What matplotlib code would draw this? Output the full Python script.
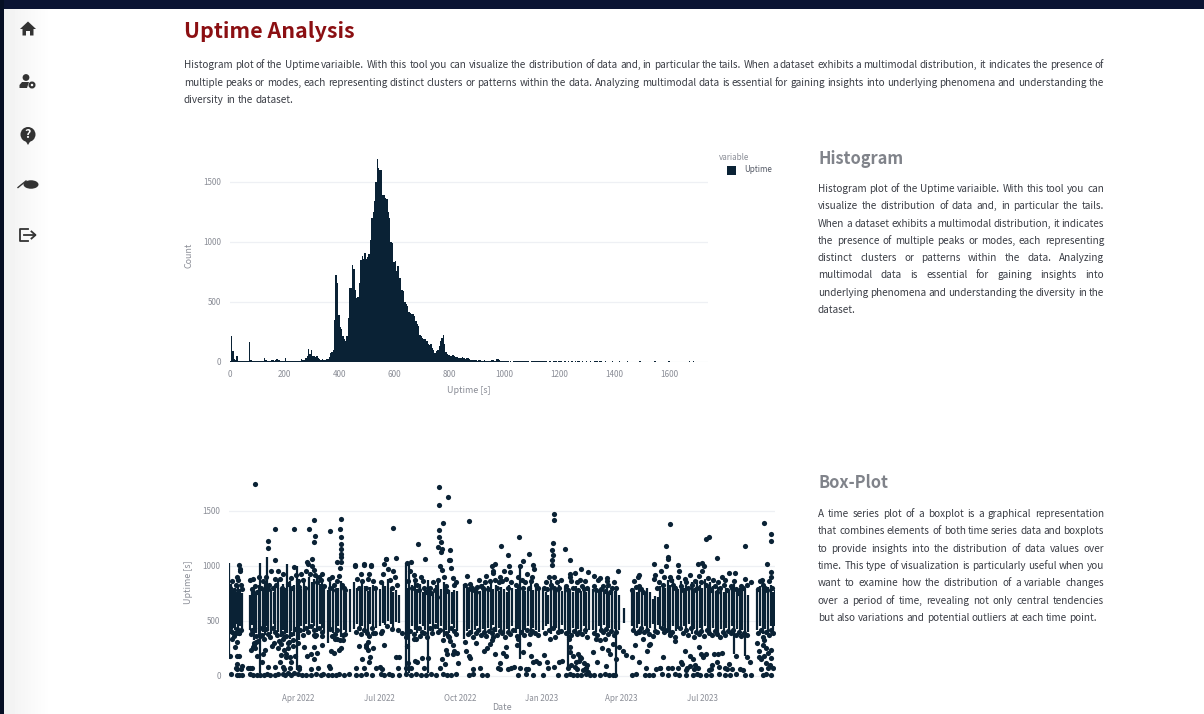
import numpy as np
import pandas as pd
import matplotlib
matplotlib.use('Agg')
import matplotlib.pyplot as plt
import matplotlib.patches as mpatches

W, H = 1204, 714
NAVY = '#0a2235'
GREY = '#8a8d96'
plt.rcParams['font.family'] = ['Noto Sans CJK JP', 'DejaVu Sans']

# histogram, 5 s bins starting at 0
hist_counts = [
    5, 210, 85, 20, 10, 45, 5, 3, 2, 2,
    2, 1, 6, 8, 160, 12, 8, 3, 1, 1,
    1, 4, 2, 3, 2, 28, 12, 5, 6, 8,
    10, 12, 8, 12, 25, 10, 12, 8, 5, 3,
    28, 5, 6, 8, 6, 5, 6, 6, 5, 6,
    8, 6, 20, 15, 14, 30, 50, 105, 60, 95,
    50, 45, 40, 45, 30, 20, 15, 25, 15, 15,
    18, 25, 40, 70, 80, 95, 345, 725, 660, 390,
    290, 270, 215, 190, 170, 210, 365, 615, 615, 805,
    770, 600, 530, 540, 655, 845, 885, 860, 910, 860,
    870, 900, 1015, 1200, 1250, 1340, 1500, 1690, 1620, 1600,
    1600, 1390, 1390, 1370, 1360, 1250, 1200, 1000, 990, 830,
    840, 760, 800, 700, 695, 600, 590, 500, 480, 460,
    410, 405, 400, 400, 380, 340, 310, 300, 220, 210,
    195, 190, 190, 170, 145, 140, 145, 115, 95, 75,
    85, 100, 130, 170, 200, 225, 150, 80, 65, 55,
    48, 50, 52, 45, 35, 35, 30, 30, 32, 38,
    30, 25, 30, 28, 20, 15, 14, 12, 10, 12,
    8, 10, 9, 8, 7, 9, 8, 6, 7, 5,
    9, 10, 6, 7, 18, 20, 9, 8, 8, 7,
    2, 4, 3, 0, 3, 0, 2, 4, 3, 3,
    2, 3, 3, 3, 2, 1, 3, 3, 0, 2,
    3, 3, 2, 1, 3, 3, 4, 4, 3, 2,
    3, 0, 3, 3, 0, 3, 2, 3, 0, 2,
    3, 3, 0, 2, 2, 0, 3, 0, 2, 2,
    0, 2, 0, 2, 3, 0, 2, 0, 0, 2,
    0, 0, 2, 0, 0, 3, 3, 2, 0, 2,
    3, 0, 0, 2, 0, 0, 0, 0, 2, 0,
    0, 0, 0, 2, 0, 0, 0, 0, 0, 2,
    0, 0, 0, 0, 0, 0, 0, 0, 2, 0,
    0, 0, 0, 0, 0, 0, 0, 0, 0, 2,
    0, 0, 0, 0, 0, 0, 0, 0, 0, 2,
    0, 0, 0, 0, 0, 0, 0, 0, 0, 0,
    0, 0, 0, 0, 2, 0, 0, 2, 0, 0,
    0, 0, 0, 0, 0,
]
hist_edges = [i * 5 for i in range(len(hist_counts) + 1)]
hist_ticks = [0, 200, 400, 600, 800, 1000, 1200, 1400, 1600]
count_ticks = [0, 500, 1000, 1500]

start_date = '2022-01-13'
month_ticks = ['2022-04-01', '2022-07-01', '2022-10-01', '2023-01-01', '2023-04-01', '2023-07-01']
month_labels = ['Apr 2022', 'Jul 2022', 'Oct 2022', 'Jan 2023', 'Apr 2023', 'Jul 2023']
uptime_ticks = [0, 500, 1000, 1500]

# whiskers: day after start_date, low end, high end
box_days = [0, 2, 4, 6, 8, 10, 12, 14,
            23, 25, 28, 30, 33, 35, 38, 40, 42, 44, 47, 50, 52, 55, 58, 60, 63, 65, 68, 70, 73, 76, 78, 81, 84, 87, 90, 93, 96, 99, 102, 105, 107,
            111, 114, 117, 120, 123, 126, 129, 132, 136,
            141, 144, 147, 150, 153, 156, 159, 162, 165,
            170, 173, 176, 179, 182, 185, 188, 192,
            199, 201, 203, 206, 209, 212, 215, 218, 221, 224, 227, 230, 233, 236, 239, 242, 245, 248, 251, 254, 257,
            265, 268, 271, 274, 277, 280, 283, 286, 289, 292, 295, 298, 301, 304, 307, 310, 313, 316, 319,
            323, 326, 328, 331, 334, 337, 340, 343, 346, 349,
            354, 357, 360, 363, 366, 369, 372, 375,
            379, 382, 385, 388, 391, 394, 397, 400, 403, 406,
            411, 414, 417, 420, 423, 426, 429, 432, 435, 437, 440, 445,
            454, 457, 460, 463, 466, 469, 472, 475, 480, 484,
            478, 486, 489, 492, 495, 498, 501, 504, 507,
            505, 510, 513, 516, 519, 522, 525, 528, 531, 534, 537, 540, 543, 546, 549, 552, 555, 558, 561, 564, 567, 570, 573, 576, 579, 582, 585,
            596, 599, 602, 605, 608, 611, 614, 616]
box_lows = [150, 380, 440, 420, 470, 430, 450, 410,
            420, 460, 330, 390, 350, 30, 400, 370, 450, 410, 380, 470, 430, 400, 350, 420, 380, 390, 340, 410, 360, 50, 330, 450, 400, 470, 430, 480, 450, 400, 470, 440, 400,
            300, 430, 390, 400, 450, 350, 420, 400, 400,
            430, 470, 410, 450, 420, 390, 470, 420, 440,
            450, 480, 460, 500, 470, 430, 490, 480,
            30, 380, 30, 450, 420, 390, 470, 450, 420, 30, 470, 410, 480, 430, 450, 350, 420, 390, 470, 440, 410,
            340, 410, 430, 380, 420, 450, 400, 430, 390, 440, 420, 460, 400, 440, 420, 380, 430, 410, 450,
            390, 430, 150, 400, 420, 450, 410, 440, 420, 400,
            420, 450, 470, 380, 430, 440, 400, 460,
            420, 80, 380, 440, 400, 430, 410, 450, 380, 420,
            420, 400, 450, 430, 460, 410, 440, 400, 430, 20, 420, 480,
            450, 420, 440, 470, 430, 450, 410, 440, 430, 460,
            470, 430, 450, 400, 430, 380, 450, 410, 430,
            500, 420, 450, 400, 470, 380, 430, 410, 440, 390, 450, 420, 400, 440, 410, 380, 430, 400, 440, 420, 450, 200, 430, 390, 420, 180, 400,
            420, 450, 380, 430, 400, 450, 420, 450]
box_highs = [1030, 840, 780, 800, 760, 820, 790, 750,
             740, 770, 810, 760, 830, 1030, 790, 850, 1080, 820, 780, 760, 830, 870, 800, 840, 780, 1020, 860, 790, 830, 1000, 880, 790, 860, 810, 900, 850, 880, 920, 840, 860, 820,
             780, 850, 820, 760, 800, 860, 790, 750, 790,
             850, 800, 780, 860, 820, 770, 810, 830, 790,
             790, 850, 820, 880, 800, 760, 780, 740,
             1030, 800, 1030, 830, 870, 790, 840, 760, 810, 870, 800, 760, 830, 870, 790, 850, 800, 780, 760, 780, 770,
             840, 810, 780, 830, 790, 810, 770, 840, 800, 820, 860, 790, 830, 770, 810, 790, 760, 830, 800,
             790, 830, 1000, 800, 770, 790, 850, 780, 810, 790,
             790, 760, 740, 870, 800, 790, 830, 770,
             810, 800, 780, 760, 820, 790, 770, 800, 760, 790,
             790, 760, 780, 800, 770, 810, 750, 790, 770, 800, 740, 620,
             800, 770, 760, 800, 790, 750, 800, 760, 730, 720,
             700, 820, 840, 800, 870, 830, 880, 820, 790,
             650, 860, 800, 830, 810, 850, 790, 870, 830, 800, 880, 790, 850, 820, 770, 810, 790, 760, 800, 770, 820, 840, 780, 800, 830, 790, 740,
             790, 820, 850, 790, 810, 830, 760, 780]

# outliers near zero
zero_days = [2, 8, 11, 14, 23, 27, 31, 34, 39, 42, 46, 51, 55, 60, 63, 66, 70, 73, 77, 82, 86, 92, 98, 103, 106, 111, 116, 120, 124, 129, 135,
             143, 148, 154, 161, 171, 175, 180, 184, 191, 199, 205, 211, 216, 222, 228, 233, 241, 246, 250, 256,
             271, 275, 285, 291, 326, 335, 343, 354, 371, 380, 384, 388, 392, 397, 403, 407, 412, 418, 424, 429, 433, 435, 454, 459, 469, 474, 478,
             488, 495, 503, 508, 516, 523, 528, 531, 538, 544, 553, 559, 565, 572, 582, 589, 602, 606, 612]
zero_vals = [15, 10, 12, 8, 18, 10, 6, 12, 8, 15, 9, 10, 14, 20, 8, 25, 12, 30, 15, 10, 8, 12, 20, 10, 15, 10, 12, 8, 14, 10, 15,
             12, 8, 15, 10, 18, 10, 14, 12, 8, 15, 10, 20, 12, 8, 14, 10, 18, 10, 12, 15,
             10, 15, 10, 12, 8, 20, 10, 10, 12, 8, 15, 10, 12, 8, 14, 10, 12, 8, 15, 10, 12, 10, 12, 15, 10, 8, 12,
             14, 10, 15, 8, 12, 10, 15, 8, 12, 10, 14, 12, 8, 15, 10, 12, 8, 15, 10]

# outliers below the whiskers
low_days = [1, 3, 6, 8, 9, 11, 13, 14, 6, 9, 11, 7, 8,
            21, 24, 26, 29, 23, 27, 30, 34, 38, 40, 28, 31, 37, 44, 48, 52, 55, 50, 57,
            58, 60, 62, 64, 66, 68, 58, 62, 66, 70, 74, 78, 60, 64, 68, 72, 79, 84, 88,
            92, 95, 97, 99, 104, 92, 96, 100, 104, 96,
            112, 115, 118, 121, 124, 126, 128, 119, 114,
            143, 146, 150, 152, 154, 157, 159, 162, 166, 154, 156, 158, 162,
            170, 172, 175, 171, 188, 191, 195, 190,
            199, 200, 202, 205, 208, 212, 217, 215, 220, 224, 199, 210,
            238, 240, 243, 246, 249, 252, 254, 257, 245, 248, 258, 252,
            267, 270, 272, 275, 278, 283, 287, 291, 294, 297, 300, 303, 306, 309, 312, 315, 318, 321, 298, 306, 312,
            325, 328, 331, 335, 338, 343, 346, 350, 326, 337, 340,
            355, 358, 360, 372, 376, 362, 366,
            382, 385, 388, 391, 394, 397, 400, 403, 383, 386, 392, 396, 402, 404, 385, 390, 395, 399, 405,
            411, 414, 418, 421, 424, 427, 430, 433, 436, 440, 444, 448, 415, 425,
            455, 458, 463, 467, 471, 475, 470, 474, 478, 482, 486, 462,
            486, 490, 495, 497, 500, 503, 507, 511, 514, 517, 520, 523, 526, 529, 532, 535, 510, 515, 520, 525,
            538, 541, 544, 547, 550, 553, 556, 560, 564, 568, 572, 576, 580, 584, 588, 530, 545, 552, 562,
            596, 598, 600, 602, 604, 606, 608, 610, 612, 614, 600, 604, 608, 612, 598, 606]
low_vals = [180, 340, 390, 180, 110, 180, 60, 90, 260, 310, 390, 70, 60,
            70, 240, 75, 250, 70, 260, 310, 360, 200, 240, 280, 180, 130, 80, 270, 80, 250, 300, 130,
            290, 80, 240, 170, 300, 170, 190, 60, 250, 130, 180, 80, 340, 200, 70, 270, 60, 260, 180,
            200, 370, 360, 210, 360, 60, 150, 70, 280, 260,
            90, 230, 210, 340, 240, 250, 330, 380, 70,
            70, 270, 150, 70, 280, 310, 170, 250, 70, 260, 240, 130, 390,
            80, 60, 280, 390, 170, 170, 390, 70,
            70, 270, 120, 70, 340, 130, 160, 360, 70, 160, 350, 140,
            70, 150, 110, 200, 320, 200, 230, 210, 240, 350, 120, 280,
            230, 180, 160, 60, 300, 70, 230, 250, 290, 330, 200, 70, 120, 210, 180, 60, 70, 80, 350, 60, 260,
            280, 70, 220, 60, 290, 130, 140, 120, 340, 60, 180,
            190, 130, 70, 130, 140, 340, 80,
            70, 260, 180, 130, 200, 160, 120, 70, 340, 100, 60, 170, 60, 100, 220, 80, 140, 50, 40,
            220, 340, 330, 250, 340, 240, 200, 290, 150, 260, 230, 190, 130, 90,
            170, 280, 400, 340, 230, 290, 70, 280, 360, 60, 70, 130,
            70, 170, 70, 380, 70, 320, 70, 110, 230, 70, 180, 150, 100, 70, 200, 170, 130, 50, 90, 60,
            200, 50, 60, 200, 130, 80, 210, 70, 110, 60, 180, 60, 50, 170, 130, 260, 100, 200, 60,
            300, 230, 150, 280, 180, 120, 210, 100, 160, 70, 60, 330, 70, 240, 170, 250]

# outliers above the whiskers
high_days = [29, 237, 247, 237, 241, 270, 126, 95, 52, 73, 90, 113, 125, 185, 44, 44, 97, 95, 126, 126, 126, 126, 126, 126,
             237, 237, 239, 236, 240, 239, 249, 249, 213, 188, 177, 51, 93, 88, 121, 142, 152, 160, 221, 205, 11, 12,
             367, 367, 327, 307, 315, 338, 365, 364, 379, 300, 332, 385, 497, 493, 538, 542, 550, 582, 604, 612, 612, 607,
             479, 495, 529, 534, 506, 439, 397, 364, 343, 317, 298, 462, 405, 412, 426, 384, 571, 589, 612]
high_vals = [1742, 1717, 1627, 1557, 1391, 1409, 1427, 1415, 1340, 1340, 1340, 1318, 1340, 1349, 1225, 1165, 1273, 1222, 1264, 1204, 1158, 1113, 1083, 1037,
             1325, 1264, 1219, 1173, 1158, 1128, 1143, 1052, 1197, 1076, 1067, 1058, 1067, 1037, 1037, 1007, 1016, 1007, 1067, 1037, 1007, 977,
             1476, 1415, 1264, 1179, 1098, 1107, 1210, 1149, 1152, 1022, 1046, 1052, 1385, 1179, 1243, 1264, 1073, 1185, 1394, 1294, 1228, 1016,
             1019, 1067, 1022, 1028, 1007, 952, 974, 1052, 1013, 946, 952, 922, 946, 907, 892, 925, 937, 856, 943]

# outliers hugging the top of the band
upper_days = [1, 3, 5, 7, 9, 10, 12, 13, 14, 23, 25, 27, 29, 31, 33, 36, 38, 41, 43, 45, 47, 49, 51, 53, 55, 57, 59, 61, 63, 66, 69, 71, 73, 75, 77, 79, 81, 83, 85, 87, 89, 91, 93, 95, 97, 99, 101, 103, 105, 107,
              112, 114, 116, 118, 120, 122, 124, 125, 127, 129, 131, 142, 144, 146, 148, 150, 152, 154, 156, 158, 160, 162, 164, 171, 173, 175, 177, 179, 181, 183, 185, 187, 189,
              200, 202, 204, 206, 208, 210, 212, 214, 216, 218, 220, 222, 226, 228, 230, 232, 234, 236, 238, 240, 242, 244, 246, 248, 250, 252, 254, 256,
              266, 268, 270, 272, 274, 276, 278, 280, 282, 284, 286, 288, 290, 292, 294, 296, 298, 300, 302, 304, 306, 308, 310, 312, 314, 316, 318,
              324, 326, 328, 330, 332, 334, 336, 338, 340, 342, 344, 346, 348, 355, 357, 359, 361, 363, 364, 365, 366, 367, 368, 370, 372, 374,
              380, 382, 384, 386, 388, 390, 392, 394, 396, 398, 400, 402, 404, 412, 414, 416, 418, 420, 422, 424, 426, 428, 430, 432, 434, 436,
              455, 457, 459, 461, 463, 465, 467, 479, 481, 483, 485, 487, 489, 491, 493, 495, 497, 499, 501, 503, 506, 508, 510, 512, 514, 516, 518, 520, 522, 524, 526, 528, 530, 532, 534, 536, 538, 540, 542, 544, 546, 548, 550, 552, 554, 556, 558, 560, 562, 564, 566, 568, 570, 572, 574, 576, 578, 580, 582, 584,
              597, 599, 601, 603, 605, 607, 609, 611, 613]
upper_vals = [800, 860, 780, 830, 900, 870, 950, 830, 790, 870, 790, 880, 820, 760, 900, 800, 860, 900, 790, 830, 950, 800, 880, 830, 950, 880, 800, 930, 780, 840, 890, 800, 990, 920, 860, 810, 930, 870, 800, 950, 1020, 930, 1000, 960, 920, 850, 900, 870, 930, 820,
              880, 800, 900, 830, 780, 860, 910, 980, 830, 800, 780, 1000, 880, 800, 930, 860, 1010, 800, 880, 930, 1000, 860, 800, 850, 930, 1020, 1060, 970, 870, 800, 950, 900, 830,
              1030, 860, 950, 800, 920, 870, 830, 780, 900, 860, 800, 760, 800, 750, 850, 780, 720, 870, 1000, 960, 900, 820, 770, 1050, 980, 890, 830, 850,
              830, 910, 790, 840, 800, 780, 760, 810, 870, 820, 800, 850, 910, 790, 860, 1000, 940, 870, 800, 850, 900, 860, 950, 880, 800, 1000, 850,
              830, 900, 1000, 870, 800, 850, 930, 800, 860, 900, 970, 830, 800, 800, 850, 790, 900, 830, 1010, 1100, 900, 800, 780, 850, 800, 870,
              820, 780, 900, 860, 800, 940, 850, 780, 870, 820, 790, 860, 800, 820, 780, 870, 890, 790, 820, 770, 860, 830, 760, 800, 850, 800,
              780, 860, 810, 900, 820, 790, 760, 880, 920, 800, 850, 950, 830, 900, 1000, 1080, 900, 870, 830, 800, 900, 950, 820, 780, 880, 850, 800, 920, 830, 780, 860, 800, 910, 850, 950, 1000, 830, 890, 800, 780, 870, 820, 760, 850, 800, 900, 830, 870, 780, 940, 820, 800, 860, 790, 750, 780, 820, 800, 880, 830, 790, 860,
              870, 830, 800, 780, 860, 900, 800, 840, 760]

# outliers hugging the bottom of the band
lower_days = [1, 3, 5, 7, 9, 11, 13, 24, 26, 28, 30, 32, 34, 37, 39, 41, 43, 46, 49, 51, 54, 56, 59, 62, 64, 67, 69, 72, 74, 77, 80, 83, 86, 89, 92, 95, 98, 101, 104,
              113, 116, 119, 122, 125, 128, 131, 143, 146, 149, 152, 155, 158, 161, 164, 172, 178, 184, 190,
              200, 204, 208, 211, 214, 217, 220, 223, 226, 229, 232, 235, 238, 241, 244, 247, 250, 253, 256,
              266, 269, 272, 275, 278, 281, 284, 287, 290, 293, 296, 299, 302, 305, 308, 311, 314, 317, 320,
              325, 329, 333, 336, 339, 342, 345, 348, 356, 361, 365, 368, 371, 374,
              380, 383, 386, 389, 392, 395, 398, 401, 404, 412, 415, 419, 422, 425, 428, 431, 434, 437,
              456, 459, 462, 465, 468, 471, 474, 480, 483, 488, 491, 494, 497, 500, 503,
              509, 512, 515, 518, 521, 524, 527, 530, 533, 536, 539, 542, 545, 548, 551, 554, 557, 560, 563, 566, 569, 572, 575, 578, 581, 584,
              597, 600, 603, 606, 609, 612, 614]
lower_vals = [440, 400, 360, 390, 430, 390, 420, 380, 420, 300, 360, 320, 440, 370, 340, 430, 380, 350, 440, 400, 370, 320, 390, 350, 360, 310, 380, 330, 430, 300, 420, 370, 440, 400, 450, 420, 370, 440, 400,
              430, 360, 340, 420, 330, 370, 380, 400, 440, 380, 420, 390, 360, 440, 390, 410, 450, 430, 420,
              370, 410, 380, 340, 440, 400, 390, 350, 440, 390, 450, 400, 420, 330, 390, 360, 440, 410, 380,
              310, 380, 400, 350, 390, 420, 370, 400, 360, 410, 390, 430, 370, 410, 390, 350, 400, 380, 420,
              360, 400, 370, 420, 380, 410, 390, 370, 390, 420, 440, 350, 400, 410,
              390, 350, 370, 410, 380, 400, 380, 420, 350, 390, 370, 420, 400, 430, 380, 410, 370, 400,
              420, 390, 410, 440, 400, 420, 380, 410, 400, 440, 400, 420, 370, 400, 350,
              440, 390, 420, 370, 440, 350, 400, 380, 410, 360, 420, 390, 370, 410, 380, 350, 400, 370, 410, 390, 420, 370, 400, 360, 390, 370,
              390, 420, 350, 400, 370, 420, 390]

paragraph = [
    'Histogram plot of the Uptime variaible. With this tool you can visualize the distribution of data and, in particular the tails. When a dataset exhibits a multimodal distribution, it indicates the presence of',
    'multiple peaks or modes, each representing distinct clusters or patterns within the data. Analyzing multimodal data is essential for gaining insights into underlying phenomena and understanding the',
    'diversity in the dataset.',
]
hist_text = [
    'Histogram plot of the Uptime variaible. With this tool you can',
    'visualize the distribution of data and, in particular the tails.',
    'When a dataset exhibits a multimodal distribution, it indicates',
    'the presence of multiple peaks or modes, each representing',
    'distinct clusters or patterns within the data. Analyzing',
    'multimodal data is essential for gaining insights into',
    'underlying phenomena and understanding the diversity in the',
    'dataset.',
]
box_text = [
    'A time series plot of a boxplot is a graphical representation',
    'that combines elements of both time series data and boxplots',
    'to provide insights into the distribution of data values over',
    'time. This type of visualization is particularly useful when you',
    'want to examine how the distribution of a variable changes',
    'over a period of time, revealing not only central tendencies',
    'but also variations and potential outliers at each time point.',
]

fig = plt.figure(figsize=(W / 100, H / 100), dpi=100, facecolor='white')


def px_axes(left, right, top, bottom):
    return fig.add_axes([left / W, 1 - bottom / H, (right - left) / W, (bottom - top) / H])


bg = fig.add_axes([0, 0, 1, 1])
ramp = np.linspace(0.945, 1, 48).reshape(1, -1)
bg.imshow(ramp, extent=[4, 52, H, 9], cmap='gray', vmin=0, vmax=1, aspect='auto', zorder=1)
bg.set_xlim(0, W)
bg.set_ylim(H, 0)
bg.axis('off')
bg.add_patch(mpatches.Rectangle((0, 0), W, 9, color='#0b1433', lw=0, zorder=2))
bg.add_patch(mpatches.Rectangle((0, 0), 4, H, color='#060f24', lw=0, zorder=2))

# sidebar icons
ICON = '#333333'
bg.add_patch(mpatches.Polygon([(20, 29), (28, 21.5), (36, 29), (33.5, 29), (33.5, 35.5), (30, 35.5), (30, 31), (26, 31), (26, 35.5), (22.5, 35.5), (22.5, 29)], color=ICON, lw=0, zorder=3))
bg.add_patch(mpatches.Circle((26, 77.5), 3.4, color=ICON, lw=0, zorder=3))
bg.add_patch(mpatches.Polygon([(19.5, 88), (19.5, 85), (22, 82), (29, 82), (27, 88)], color=ICON, lw=0, zorder=3))
bg.add_patch(mpatches.Circle((32, 85), 2.4, fc='white', ec=ICON, lw=1.6, zorder=3))
bg.add_patch(mpatches.Circle((28, 134.5), 7.5, color=ICON, lw=0, zorder=3))
bg.add_patch(mpatches.Polygon([(25, 140), (31, 140), (28, 145)], color=ICON, lw=0, zorder=3))
bg.text(28, 134.8, '?', color='white', fontsize=9, fontweight='bold', ha='center', va='center', zorder=4)
bg.add_patch(mpatches.Ellipse((31, 184.5), 15, 8.5, color=ICON, lw=0, zorder=3))
bg.plot([18, 21, 26], [187.5, 185, 181], color=ICON, lw=1, zorder=3)
bg.plot([28, 20, 20, 28], [229, 229, 241, 241], color=ICON, lw=1.3, zorder=3)
bg.plot([24, 35], [235, 235], color=ICON, lw=1.3, zorder=3)
bg.plot([31.5, 35.5, 31.5], [231.5, 235, 238.5], color=ICON, lw=1.3, zorder=3)


def justified(lines, x0, x1, y0, step, size, color='#3a3d45'):
    # word by word so both edges line up, last line stays natural
    r = fig.canvas.get_renderer()
    for n, line in enumerate(lines):
        y = y0 + n * step
        words = line.split(' ')
        probe = [bg.text(0, 0, w, fontsize=size) for w in words]
        sizes = [t.get_window_extent(r).width for t in probe]
        for t in probe:
            t.remove()
        gap = (x1 - x0 - sum(sizes)) / max(len(words) - 1, 1)
        if n == len(lines) - 1:
            gap = 2.4
        x = x0
        for w, s in zip(words, sizes):
            bg.text(x, y, w, fontsize=size, color=color, va='baseline', ha='left', zorder=5)
            x += s + gap


bg.text(184, 38.5, 'Uptime Analysis', fontsize=15.4, fontweight='bold', color='#8b0f12', va='baseline', ha='left', zorder=5)
justified(paragraph, 184, 1104, 68, 17.6, 7.2)
bg.text(818, 163.5, 'Histogram', fontsize=11.8, fontweight='bold', color='#80838a', va='baseline', zorder=5)
justified(hist_text, 818, 1104, 192, 17.3, 7.2)
bg.text(818, 487.5, 'Box-Plot', fontsize=11.8, fontweight='bold', color='#80838a', va='baseline', zorder=5)
justified(box_text, 818, 1104, 517, 17.3, 7.2)

# histogram
ax1 = px_axes(229.5, 708, 150, 361.5)
ax1.patch.set_alpha(0)
ax1.stairs(hist_counts, hist_edges, fill=True, color=NAVY, lw=0, zorder=3)
ax1.set_xlim(0, 1740)
ax1.set_ylim(0, 1767)
ax1.set_xticks(hist_ticks)
ax1.set_yticks(count_ticks)
ax1.set_xlabel('Uptime [s]', fontsize=6.4, color=GREY, labelpad=5)
ax1.set_ylabel('Count', fontsize=6.4, color=GREY, labelpad=7)

# box plot over time
ax2 = px_axes(229, 775, 478, 686)
ax2.patch.set_alpha(0)
base = pd.Timestamp(start_date)
box_dates = [base + pd.Timedelta(days=d) for d in box_days]
n_box = min(len(box_dates), len(box_lows), len(box_highs))
ax2.vlines(box_dates[:n_box], box_lows[:n_box], box_highs[:n_box], color=NAVY, lw=1.6, zorder=3)
outlier_groups = ((zero_days, zero_vals), (low_days, low_vals), (high_days, high_vals),
                  (upper_days, upper_vals), (lower_days, lower_vals))
for days, vals in outlier_groups:
    n = min(len(days), len(vals))
    ax2.scatter([base + pd.Timedelta(days=d) for d in days[:n]], vals[:n], s=14, color=NAVY, lw=0, zorder=4)
ax2.set_xlim(base - pd.Timedelta(days=0.5), base + pd.Timedelta(days=616))
ax2.set_ylim(-91, 1800)
ax2.set_xticks([pd.Timestamp(m) for m in month_ticks])
ax2.set_xticklabels(month_labels)
ax2.set_yticks(uptime_ticks)
ax2.set_xlabel('Date', fontsize=6.4, color=GREY, labelpad=0)
ax2.set_ylabel('Uptime [s]', fontsize=6.4, color=GREY, labelpad=7)

for ax in (ax1, ax2):
    for s in ax.spines.values():
        s.set_visible(False)
    ax.grid(axis='y', color='#eef0f4', lw=0.9, zorder=0)
    ax.tick_params(length=0, labelsize=5.8, labelcolor=GREY, pad=6)

# legend
bg.text(718.5, 157.5, 'variable', fontsize=5.8, color=GREY, va='center', zorder=5)
bg.add_patch(mpatches.Rectangle((727, 165.5), 9, 9, color=NAVY, lw=0, zorder=5))
bg.text(744.5, 170, 'Uptime', fontsize=5.8, color='#555a66', va='center', zorder=5)

fig.savefig('out.png', dpi=100)
